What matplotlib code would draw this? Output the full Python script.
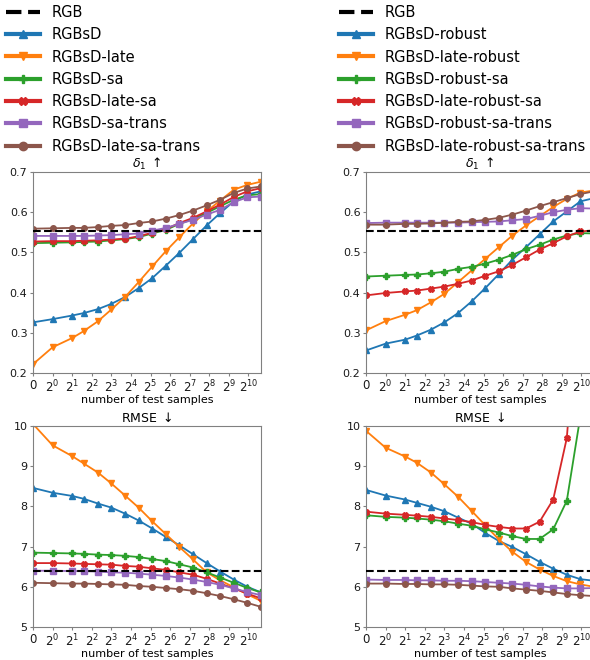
import matplotlib
matplotlib.use('Agg')
import matplotlib.pyplot as plt
from matplotlib.ticker import NullLocator

# number of test samples (fibonacci steps)
n_samples = [0, 1, 2, 3, 5, 8, 13, 21, 34, 55, 89, 144, 233, 377, 610, 987, 1597]
xtick_vals = [0] + [2 ** k for k in range(11)]
xtick_labels = ['0'] + ['$2^{%d}$' % k for k in range(11)]

rgb_d1 = 0.552
rgb_rmse = 6.40

labels_left = ['RGBsD', 'RGBsD-late', 'RGBsD-sa', 'RGBsD-late-sa',
               'RGBsD-sa-trans', 'RGBsD-late-sa-trans']
labels_right = ['RGBsD-robust', 'RGBsD-late-robust', 'RGBsD-robust-sa',
                'RGBsD-late-robust-sa', 'RGBsD-robust-sa-trans',
                'RGBsD-late-robust-sa-trans']

# delta1, left column
d1_rgbsd = [0.326, 0.334, 0.343, 0.349, 0.359, 0.372, 0.389, 0.411, 0.436, 0.467, 0.499, 0.533, 0.567, 0.598, 0.627, 0.644, 0.652]
d1_late = [0.222, 0.264, 0.287, 0.304, 0.329, 0.358, 0.389, 0.426, 0.465, 0.503, 0.538, 0.572, 0.602, 0.629, 0.656, 0.668, 0.676]
d1_sa = [0.523, 0.524, 0.525, 0.526, 0.527, 0.530, 0.533, 0.538, 0.547, 0.556, 0.571, 0.583, 0.598, 0.615, 0.631, 0.642, 0.645]
d1_late_sa = [0.527, 0.528, 0.528, 0.529, 0.530, 0.532, 0.534, 0.540, 0.549, 0.558, 0.573, 0.586, 0.602, 0.619, 0.638, 0.652, 0.660]
d1_sa_trans = [0.541, 0.541, 0.541, 0.541, 0.542, 0.543, 0.545, 0.547, 0.554, 0.561, 0.571, 0.581, 0.594, 0.606, 0.625, 0.637, 0.639]
d1_late_sa_trans = [0.559, 0.560, 0.561, 0.561, 0.563, 0.566, 0.568, 0.573, 0.577, 0.584, 0.593, 0.604, 0.617, 0.631, 0.648, 0.659, 0.664]

# delta1, right column (robust)
d1r_robust = [0.256, 0.273, 0.283, 0.293, 0.308, 0.326, 0.349, 0.378, 0.411, 0.446, 0.482, 0.513, 0.545, 0.577, 0.602, 0.627, 0.635]
d1r_late_robust = [0.306, 0.329, 0.345, 0.356, 0.376, 0.397, 0.426, 0.455, 0.484, 0.513, 0.542, 0.567, 0.590, 0.613, 0.633, 0.649, 0.654]
d1r_robust_sa = [0.440, 0.442, 0.444, 0.445, 0.448, 0.452, 0.459, 0.464, 0.472, 0.482, 0.494, 0.508, 0.519, 0.532, 0.542, 0.548, 0.547]
d1r_late_robust_sa = [0.393, 0.399, 0.403, 0.405, 0.410, 0.415, 0.422, 0.430, 0.442, 0.453, 0.469, 0.488, 0.507, 0.523, 0.540, 0.552, 0.555]
d1r_robust_sa_trans = [0.573, 0.574, 0.574, 0.574, 0.574, 0.574, 0.574, 0.575, 0.576, 0.577, 0.580, 0.583, 0.591, 0.600, 0.606, 0.610, 0.609]
d1r_late_robust_sa_trans = [0.569, 0.569, 0.571, 0.571, 0.572, 0.574, 0.576, 0.577, 0.581, 0.586, 0.594, 0.604, 0.615, 0.625, 0.635, 0.645, 0.652]

# RMSE, left column
rm_rgbsd = [8.46, 8.34, 8.26, 8.19, 8.07, 7.97, 7.82, 7.65, 7.45, 7.24, 7.03, 6.81, 6.59, 6.38, 6.18, 6.00, 5.86]
rm_late = [10.05, 9.52, 9.25, 9.07, 8.84, 8.57, 8.27, 7.97, 7.63, 7.31, 6.99, 6.68, 6.36, 6.16, 5.99, 5.81, 5.65]
rm_sa = [6.85, 6.84, 6.83, 6.82, 6.80, 6.79, 6.77, 6.74, 6.69, 6.64, 6.56, 6.48, 6.36, 6.23, 6.10, 5.97, 5.86]
rm_late_sa = [6.59, 6.59, 6.58, 6.57, 6.56, 6.55, 6.52, 6.50, 6.46, 6.42, 6.36, 6.30, 6.20, 6.08, 5.96, 5.83, 5.71]
rm_sa_trans = [6.40, 6.40, 6.39, 6.39, 6.38, 6.36, 6.35, 6.33, 6.30, 6.27, 6.23, 6.18, 6.12, 6.05, 5.96, 5.87, 5.79]
rm_late_sa_trans = [6.10, 6.09, 6.08, 6.08, 6.07, 6.06, 6.05, 6.02, 6.00, 5.97, 5.94, 5.90, 5.84, 5.77, 5.69, 5.60, 5.50]

# RMSE, right column (robust)
rmr_robust = [8.41, 8.27, 8.17, 8.09, 7.99, 7.88, 7.72, 7.57, 7.34, 7.14, 6.99, 6.81, 6.62, 6.45, 6.30, 6.19, 6.15]
rmr_late_robust = [9.88, 9.46, 9.24, 9.09, 8.84, 8.55, 8.24, 7.89, 7.53, 7.18, 6.87, 6.62, 6.43, 6.27, 6.14, 6.06, 6.00]
rmr_robust_sa = [7.78, 7.74, 7.72, 7.70, 7.67, 7.63, 7.57, 7.52, 7.43, 7.35, 7.26, 7.19, 7.19, 7.43, 8.14, 10.25, 14.0]
rmr_late_robust_sa = [7.87, 7.82, 7.79, 7.77, 7.74, 7.70, 7.66, 7.61, 7.54, 7.49, 7.45, 7.45, 7.62, 8.17, 9.70, 14.0, 20.0]
rmr_robust_sa_trans = [6.18, 6.17, 6.17, 6.16, 6.16, 6.15, 6.15, 6.14, 6.12, 6.10, 6.08, 6.05, 6.01, 5.98, 5.96, 5.96, 5.97]
rmr_late_robust_sa_trans = [6.08, 6.08, 6.07, 6.07, 6.06, 6.06, 6.05, 6.03, 6.01, 6.00, 5.96, 5.93, 5.90, 5.86, 5.82, 5.79, 5.77]

colors = ['tab:blue', 'tab:orange', 'tab:green', 'tab:red', 'tab:purple', 'tab:brown']
markers = ['^', 'v', 'P', 'X', 's', 'o']

fig = plt.figure(figsize=(5.9, 6.6), dpi=100)

W, H = 590.0, 660.0
def add_ax(x0, y0, x1, y1):
    return fig.add_axes([x0 / W, 1 - y1 / H, (x1 - x0) / W, (y1 - y0) / H])

ax_tl = add_ax(33, 172, 261, 373)
ax_tr = add_ax(366, 172, 594, 373)
ax_bl = add_ax(33, 426, 261, 627)
ax_br = add_ax(366, 426, 594, 627)

panels = [
    (ax_tl, [d1_rgbsd, d1_late, d1_sa, d1_late_sa, d1_sa_trans, d1_late_sa_trans], labels_left, rgb_d1),
    (ax_tr, [d1r_robust, d1r_late_robust, d1r_robust_sa, d1r_late_robust_sa, d1r_robust_sa_trans, d1r_late_robust_sa_trans], labels_right, rgb_d1),
    (ax_bl, [rm_rgbsd, rm_late, rm_sa, rm_late_sa, rm_sa_trans, rm_late_sa_trans], labels_left, rgb_rmse),
    (ax_br, [rmr_robust, rmr_late_robust, rmr_robust_sa, rmr_late_robust_sa, rmr_robust_sa_trans, rmr_late_robust_sa_trans], labels_right, rgb_rmse),
]

for ax, series, labels, rgb in panels:
    ax.axhline(rgb, color='k', linestyle='--', linewidth=1.5, label='RGB', zorder=3)
    for vals, lab, c, m in zip(series, labels, colors, markers):
        ax.plot(n_samples, vals, color=c, marker=m, markersize=4, linewidth=1.3, label=lab)
    ax.set_xscale('symlog', base=2, linthresh=1, linscale=0.5)
    ax.set_xlim(0, 1597)
    ax.set_xticks(xtick_vals)
    ax.set_xticklabels(xtick_labels)
    ax.xaxis.set_minor_locator(NullLocator())
    ax.tick_params(length=2, pad=2, color='0.5', labelcolor='0.1')
    ax.tick_params(axis='x', labelsize=8.5)
    ax.tick_params(axis='y', labelsize=8)
    for sp in ax.spines.values():
        sp.set_color('0.5')

for ax in (ax_tl, ax_tr):
    ax.set_ylim(0.2, 0.7)
    ax.set_yticks([0.2, 0.3, 0.4, 0.5, 0.6, 0.7])
    ax.set_title(r'$\delta_1$ $\uparrow$', fontsize=9, pad=3)
    ax.set_xlabel('number of test samples', fontsize=8, labelpad=0)
for ax in (ax_bl, ax_br):
    ax.set_ylim(5, 10)
    ax.set_yticks([5, 6, 7, 8, 9, 10])
    ax.set_title(r'RMSE $\downarrow$', fontsize=9, pad=3)
    ax.set_xlabel('number of test samples', fontsize=8, labelpad=0)

for ax, x0 in ((ax_tl, 6), (ax_tr, 339)):
    h, l = ax.get_legend_handles_labels()
    leg = fig.legend(h, l, loc='upper left', bbox_to_anchor=(x0 / W, 1 - 5 / H),
                     frameon=False, fontsize=10.5, borderpad=0, borderaxespad=0,
                     handlelength=2.3, handletextpad=0.8, labelspacing=0.5)
    for line in leg.get_lines():
        line.set_linewidth(3)
        line.set_markersize(6)

fig.savefig('out.png', dpi=100)
